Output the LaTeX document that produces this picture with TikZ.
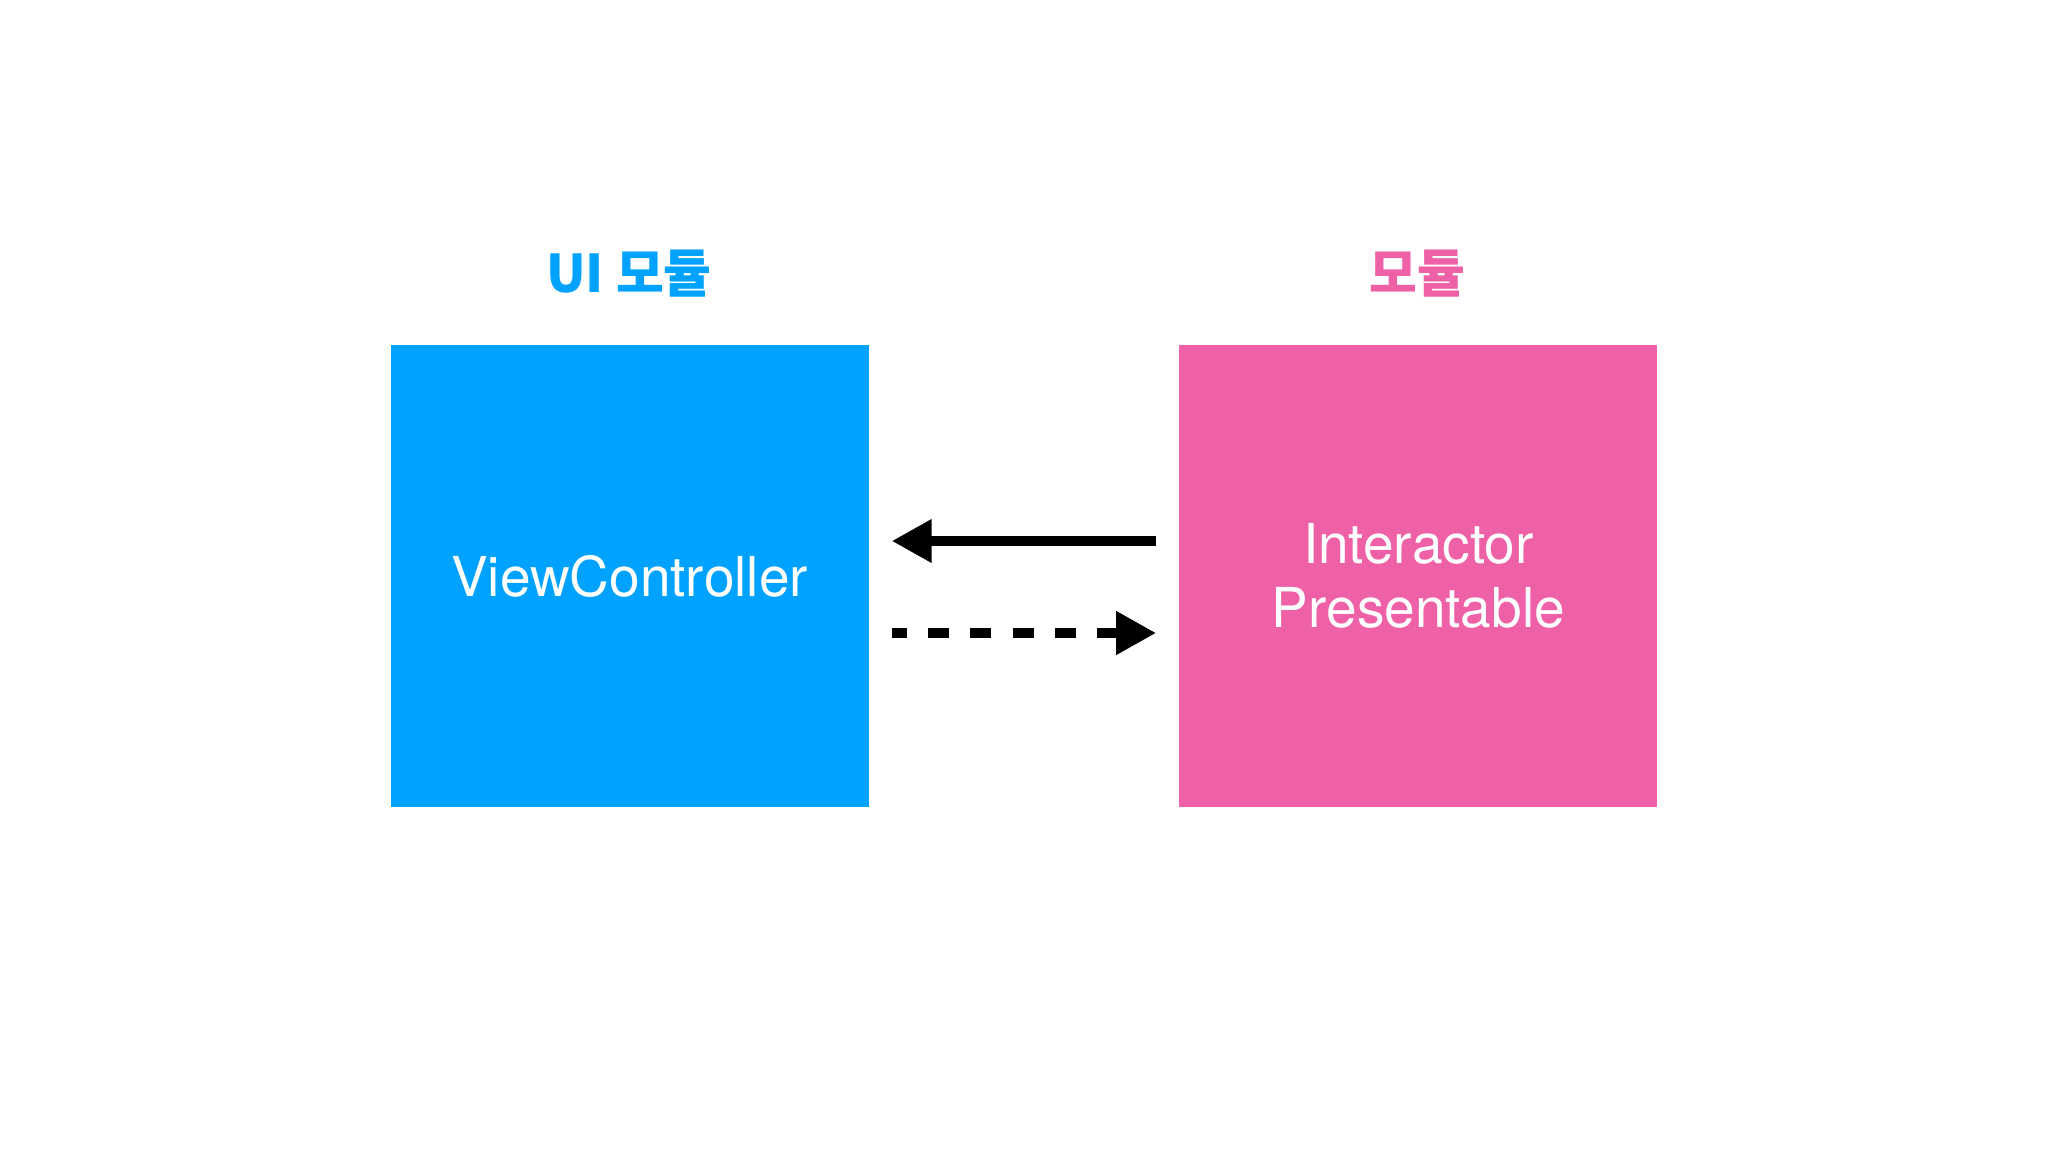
\documentclass[tikz,border=0pt]{standalone}
\usepackage{fontspec}
\setmainfont{TeX Gyre Heros}
\newfontfamily\kr{Noto Sans CJK KR}
\usetikzlibrary{arrows.meta}
\definecolor{uiblue}{HTML}{00A2FF}
\definecolor{modpink}{HTML}{EF61A6}
\tikzset{
  modbox/.style={fill=#1, draw=none, minimum width=478pt, minimum height=462pt, inner sep=0pt,
    text=white, font=\fontsize{55}{64}\selectfont, align=center},
  modlabel/.style={text=#1, font=\kr\bfseries\fontsize{52}{60}\selectfont, inner sep=0pt},
  conn/.style={line width=10pt, shorten <=23pt, shorten >=23pt, -{Triangle[length=40pt,width=41pt]}}
}
\begin{document}
\begin{tikzpicture}[x=1pt,y=-1pt]
\useasboundingbox[fill=white] (0,0) rectangle (2048,1152);
\node[modbox=uiblue] (vc) at (629.5,576) {ViewController};
\node[modbox=modpink] (ip) at (1418.4,576) {Interactor\\Presentable};
\node[modlabel=uiblue] (uil) at (629,274) {UI 모듈};
\node[modlabel=modpink] (ml) at (1417,274) {모듈};
\draw[conn] ([yshift=35pt]ip.west) -- ([yshift=35pt]vc.east);
\draw[conn, dash pattern=on 21pt off 21.3pt, dash phase=6pt] ([yshift=-57pt]vc.east) -- ([yshift=-57pt]ip.west);
\end{tikzpicture}
\end{document}
